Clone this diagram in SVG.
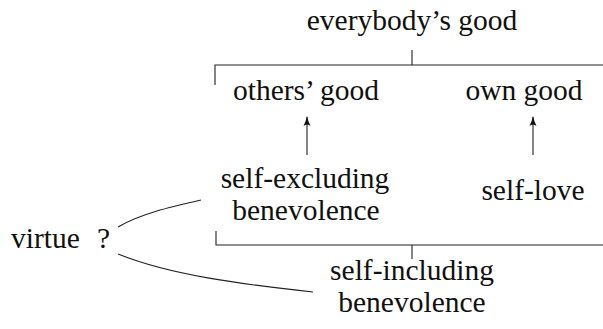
<svg xmlns="http://www.w3.org/2000/svg" width="603" height="329" viewBox="0 0 603 329">
<style>
text{font-family:"Liberation Serif","Times New Roman",serif;font-size:29.5px;fill:#111;text-anchor:middle}
.st{text-anchor:start}
.ln{stroke:#222;stroke-width:1.1;fill:none}
</style>
<defs>
<marker id="ah" markerWidth="10" markerHeight="8" refX="9" refY="4" orient="auto" markerUnits="userSpaceOnUse" viewBox="0 0 10 8">
<path d="M0,0.5 Q5,3 10,4 Q5,5 0,7.5 Q3,4 0,0.5Z" fill="#111"/>
</marker>
</defs>
<g id="everybodys-good"><text x="412" y="30">everybody’s good</text></g>
<g id="others-good"><text x="306" y="100">others’ good</text></g>
<g id="own-good"><text x="524" y="100">own good</text></g>
<g id="self-excluding"><text x="305" y="188">self-excluding</text><text x="306" y="220">benevolence</text></g>
<g id="self-love"><text x="533" y="200">self-love</text></g>
<g id="virtue"><text class="st" x="11" y="248">virtue</text><text class="st" x="97" y="248">?</text></g>
<g id="self-including"><text x="412" y="280">self-including</text><text x="412" y="312">benevolence</text></g>
<g id="connectors">
<path class="ln" d="M412,50V65M215,85V65H603"/>
<path class="ln" d="M216,231V245H603M412,245V259"/>
<path class="ln" d="M307,155V117" marker-end="url(#ah)"/>
<path class="ln" d="M533,155V117" marker-end="url(#ah)"/>
<path class="ln" d="M118,227C140,214 170,207 201,200"/>
<path class="ln" d="M118,254C170,275 240,284 313,292"/>
</g>
</svg>
